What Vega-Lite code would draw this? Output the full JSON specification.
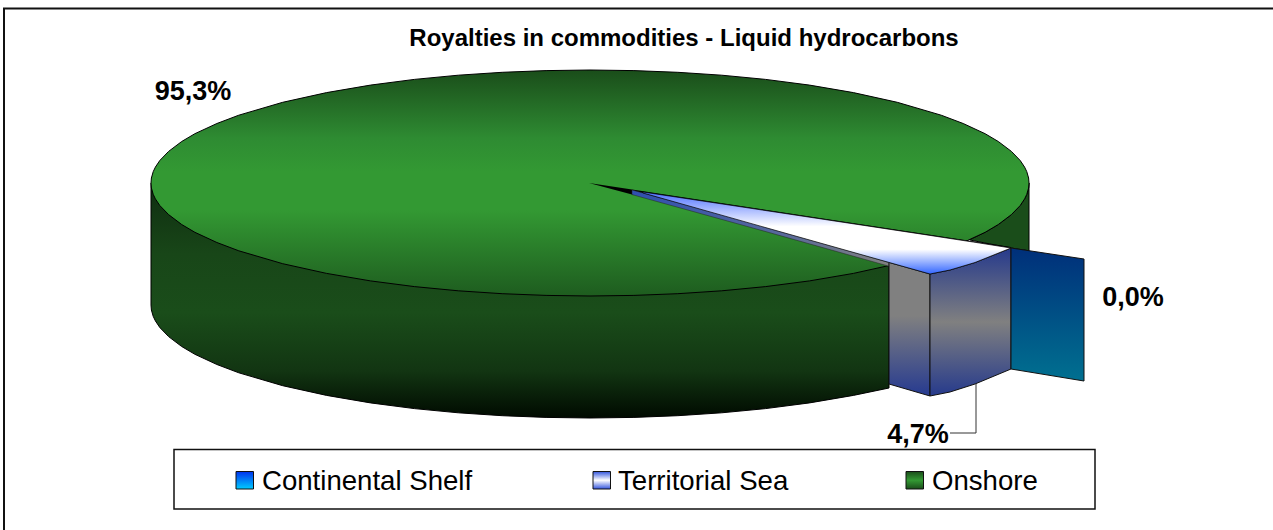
{
"$schema":"https://vega.github.io/schema/vega-lite/v6.json",
"width":1273,"height":530,"autosize":{"type":"fit","contains":"padding"},"padding":0,
"background":"white","view":{"stroke":null},
"datasets":{
"frame":[{"i":0,"x":1273,"y":8.5},{"i":1,"x":4,"y":8.5},{"i":2,"x":4,"y":530}],
"legendbox":[{"x":174,"x2":1095,"y":449.5,"y2":509}],
"side":[{"x":151,"y":183,"y2":305},{"x":151.4,"y":183,"y2":310},{"x":153.2,"y":183,"y2":316.3},{"x":155.4,"y":183,"y2":320.9},{"x":159.8,"y":183,"y2":327.5},{"x":168.6,"y":183,"y2":336.6},{"x":181.7,"y":183,"y2":346.5},{"x":194.9,"y":183,"y2":354.3},{"x":216.9,"y":183,"y2":364.5},{"x":238.8,"y":183,"y2":372.8},{"x":282.7,"y":183,"y2":385.7},{"x":326.6,"y":183,"y2":395.4},{"x":370.5,"y":183,"y2":402.9},{"x":414.4,"y":183,"y2":408.6},{"x":458.3,"y":183,"y2":412.8},{"x":502.2,"y":183,"y2":415.7},{"x":546.1,"y":183,"y2":417.4},{"x":590,"y":183,"y2":418},{"x":633.9,"y":183,"y2":417.4},{"x":677.8,"y":183,"y2":415.7},{"x":721.7,"y":183,"y2":412.8},{"x":765.6,"y":183,"y2":408.6},{"x":809.5,"y":183,"y2":402.9},{"x":853.4,"y":183,"y2":395.4},{"x":889,"y":183,"y2":388}],
"backside":[{"x":970,"y":239.5,"y2":240},{"x":985.1,"y":232.3,"y2":243},{"x":998.3,"y":224.5,"y2":245.5},{"x":1011.4,"y":214.6,"y2":248},{"x":1020.2,"y":205.5,"y2":249.5},{"x":1024.6,"y":198.9,"y2":250},{"x":1026.8,"y":194.3,"y2":250.5},{"x":1028.6,"y":188,"y2":251},{"x":1029,"y":183,"y2":251}],
"top":[{"x":151,"y":183,"y2":183},{"x":151.4,"y":178,"y2":188},{"x":153.2,"y":171.7,"y2":194.3},{"x":155.4,"y":167.1,"y2":198.9},{"x":159.8,"y":160.5,"y2":205.5},{"x":168.6,"y":151.4,"y2":214.6},{"x":181.7,"y":141.5,"y2":224.5},{"x":194.9,"y":133.7,"y2":232.3},{"x":216.9,"y":123.5,"y2":242.5},{"x":238.8,"y":115.2,"y2":250.8},{"x":282.7,"y":102.3,"y2":263.7},{"x":326.6,"y":92.6,"y2":273.4},{"x":370.5,"y":85.1,"y2":280.9},{"x":414.4,"y":79.4,"y2":286.6},{"x":458.3,"y":75.2,"y2":290.8},{"x":502.2,"y":72.3,"y2":293.7},{"x":546.1,"y":70.6,"y2":295.4},{"x":590,"y":70,"y2":296},{"x":633.9,"y":70.6,"y2":295.4},{"x":677.8,"y":72.3,"y2":293.7},{"x":721.7,"y":75.2,"y2":290.8},{"x":765.6,"y":79.4,"y2":286.6},{"x":809.5,"y":85.1,"y2":280.9},{"x":853.4,"y":92.6,"y2":273.4},{"x":897.3,"y":102.3,"y2":263.7},{"x":941.2,"y":115.2,"y2":250.8},{"x":963.2,"y":123.5,"y2":242.5},{"x":985.1,"y":133.7,"y2":232.3},{"x":998.3,"y":141.5,"y2":224.5},{"x":1011.4,"y":151.4,"y2":214.6},{"x":1020.2,"y":160.5,"y2":205.5},{"x":1024.6,"y":167.1,"y2":198.9},{"x":1026.8,"y":171.7,"y2":194.3},{"x":1028.6,"y":178,"y2":188},{"x":1029,"y":183,"y2":183}],
"blackwedge":[{"x":589,"y":183,"y2":183},{"x":632,"y":189.6,"y2":194.5},{"x":1011,"y":247,"y2":249}],
"strip":[{"x":632,"y":190,"y2":194.6},{"x":760,"y":225,"y2":230},{"x":889,"y":262.4,"y2":266.2}],
"leftface":[{"x":889,"y":262.4,"y2":384},{"x":930,"y":274,"y2":396}],
"frontface":[{"x":930,"y":274,"y2":396},{"x":950,"y":270,"y2":392},{"x":975,"y":262.5,"y2":384},{"x":1011,"y":248,"y2":369}],
"shelfface":[{"x":1011,"y":248,"y2":369},{"x":1084,"y":259,"y2":381}],
"wedge":[{"x":643,"y":192,"y2":193},{"x":930,"y":235.4,"y2":274},{"x":950,"y":238.5,"y2":270},{"x":975,"y":242.3,"y2":262.5},{"x":1011,"y":248,"y2":248}],
"leader":[{"i":0,"x":976,"y":384},{"i":1,"x":976,"y":433},{"i":2,"x":950,"y":433}],
"title":[{"x":684,"y":39,"t":"Royalties in commodities - Liquid hydrocarbons"}],
"values":[{"x":193,"y":92,"t":"95,3%"},{"x":1133,"y":298,"t":"0,0%"},{"x":918,"y":435,"t":"4,7%"}],
"legendtext":[{"x":262,"y":481.5,"t":"Continental Shelf"},{"x":618,"y":481.5,"t":"Territorial Sea"},{"x":932,"y":481.5,"t":"Onshore"}],
"s1":[{"x":236,"x2":253.5,"y":471.5,"y2":489}],
"s2":[{"x":593,"x2":610.5,"y":471.5,"y2":489}],
"s3":[{"x":906,"x2":923.5,"y":471.5,"y2":489}]
},
"encoding":{
"x":{"field":"x","type":"quantitative","scale":{"domain":[0,1273],"nice":false,"zero":false},"axis":null},
"y":{"field":"y","type":"quantitative","scale":{"domain":[0,530],"reverse":true,"nice":false,"zero":false},"axis":null,"stack":null}
},
"layer":[
{"data":{"name":"frame"},"mark":{"type":"line","stroke":"#111","strokeWidth":2,"clip":true},"encoding":{"order":{"field":"i"}}},
{"data":{"name":"side"},"mark":{"type":"area","stroke":"#000","strokeWidth":1,"fill":{"gradient":"linear","x1":0,"y1":0,"x2":0,"y2":1,"stops":[{"offset":0,"color":"#0f2d10"},{"offset":0.3,"color":"#184618"},{"offset":0.55,"color":"#1a4d1a"},{"offset":0.8,"color":"#123512"},{"offset":1,"color":"#000a00"}]}},"encoding":{"y2":{"field":"y2"}}},
{"data":{"name":"backside"},"mark":{"type":"area","stroke":"#000","strokeWidth":1,"fill":"#1a4d1a"},"encoding":{"y2":{"field":"y2"}}},
{"data":{"name":"top"},"mark":{"type":"area","stroke":"#000","strokeWidth":1,"fill":{"gradient":"linear","x1":0,"y1":0,"x2":0,"y2":1,"stops":[{"offset":0,"color":"#1a4d1a"},{"offset":0.3,"color":"#2e8b32"},{"offset":0.45,"color":"#339933"},{"offset":0.62,"color":"#339933"},{"offset":1,"color":"#1e5c1f"}]}},"encoding":{"y2":{"field":"y2"}}},
{"data":{"name":"blackwedge"},"mark":{"type":"area","fill":"#000"},"encoding":{"y2":{"field":"y2"}}},
{"data":{"name":"strip"},"mark":{"type":"area","stroke":"#222","strokeWidth":0.5,"fill":{"gradient":"linear","x1":0,"y1":0,"x2":1,"y2":0,"stops":[{"offset":0,"color":"#2f4fb0"},{"offset":0.6,"color":"#5a6a9a"},{"offset":1,"color":"#808080"}]}},"encoding":{"y2":{"field":"y2"}}},
{"data":{"name":"leftface"},"mark":{"type":"area","stroke":"#111","strokeWidth":1,"fill":{"gradient":"linear","x1":0,"y1":0,"x2":0,"y2":1,"stops":[{"offset":0,"color":"#808080"},{"offset":0.4,"color":"#808080"},{"offset":1,"color":"#263a90"}]}},"encoding":{"y2":{"field":"y2"}}},
{"data":{"name":"frontface"},"mark":{"type":"area","stroke":"#111","strokeWidth":1,"fill":{"gradient":"linear","x1":0,"y1":0,"x2":0,"y2":1,"stops":[{"offset":0,"color":"#263a8c"},{"offset":0.5,"color":"#808080"},{"offset":1,"color":"#263a8c"}]}},"encoding":{"y2":{"field":"y2"}}},
{"data":{"name":"shelfface"},"mark":{"type":"area","stroke":"#111","strokeWidth":1,"fill":{"gradient":"linear","x1":0,"y1":0,"x2":0,"y2":1,"stops":[{"offset":0,"color":"#002f7a"},{"offset":1,"color":"#007090"}]}},"encoding":{"y2":{"field":"y2"}}},
{"data":{"name":"wedge"},"mark":{"type":"area","stroke":"#000","strokeWidth":0.7,"fill":{"gradient":"linear","x1":0,"y1":0,"x2":0,"y2":1,"stops":[{"offset":0,"color":"#4d70ff"},{"offset":0.42,"color":"#ffffff"},{"offset":0.7,"color":"#ffffff"},{"offset":1,"color":"#3366ff"}]}},"encoding":{"y2":{"field":"y2"}}},
{"data":{"name":"leader"},"mark":{"type":"line","stroke":"#333","strokeWidth":1},"encoding":{"order":{"field":"i"}}},
{"data":{"name":"legendbox"},"mark":{"type":"rect","fill":"white","stroke":"#111","strokeWidth":1.5},"encoding":{"x2":{"field":"x2"},"y2":{"field":"y2"}}},
{"data":{"name":"s1"},"mark":{"type":"rect","stroke":"#111","strokeWidth":1,"fill":{"gradient":"linear","x1":0,"y1":0,"x2":0,"y2":1,"stops":[{"offset":0,"color":"#0033ee"},{"offset":1,"color":"#00ccff"}]}},"encoding":{"x2":{"field":"x2"},"y2":{"field":"y2"}}},
{"data":{"name":"s2"},"mark":{"type":"rect","stroke":"#111","strokeWidth":1,"fill":{"gradient":"linear","x1":0,"y1":0,"x2":0,"y2":1,"stops":[{"offset":0,"color":"#3355dd"},{"offset":0.5,"color":"#ffffff"},{"offset":1,"color":"#3355dd"}]}},"encoding":{"x2":{"field":"x2"},"y2":{"field":"y2"}}},
{"data":{"name":"s3"},"mark":{"type":"rect","stroke":"#111","strokeWidth":1,"fill":{"gradient":"linear","x1":0,"y1":0,"x2":0,"y2":1,"stops":[{"offset":0,"color":"#1a4d1a"},{"offset":0.5,"color":"#339933"},{"offset":1,"color":"#1a4d1a"}]}},"encoding":{"x2":{"field":"x2"},"y2":{"field":"y2"}}},
{"data":{"name":"title"},"mark":{"type":"text","font":"Liberation Sans","fontWeight":"bold","fontSize":24,"align":"center","baseline":"middle","color":"#000"},"encoding":{"text":{"field":"t"}}},
{"data":{"name":"values"},"mark":{"type":"text","font":"Liberation Sans","fontWeight":"bold","fontSize":27,"align":"center","baseline":"middle","color":"#000"},"encoding":{"text":{"field":"t"}}},
{"data":{"name":"legendtext"},"mark":{"type":"text","font":"Liberation Sans","fontSize":27.6,"align":"left","baseline":"middle","color":"#000"},"encoding":{"text":{"field":"t"}}}
]
}
